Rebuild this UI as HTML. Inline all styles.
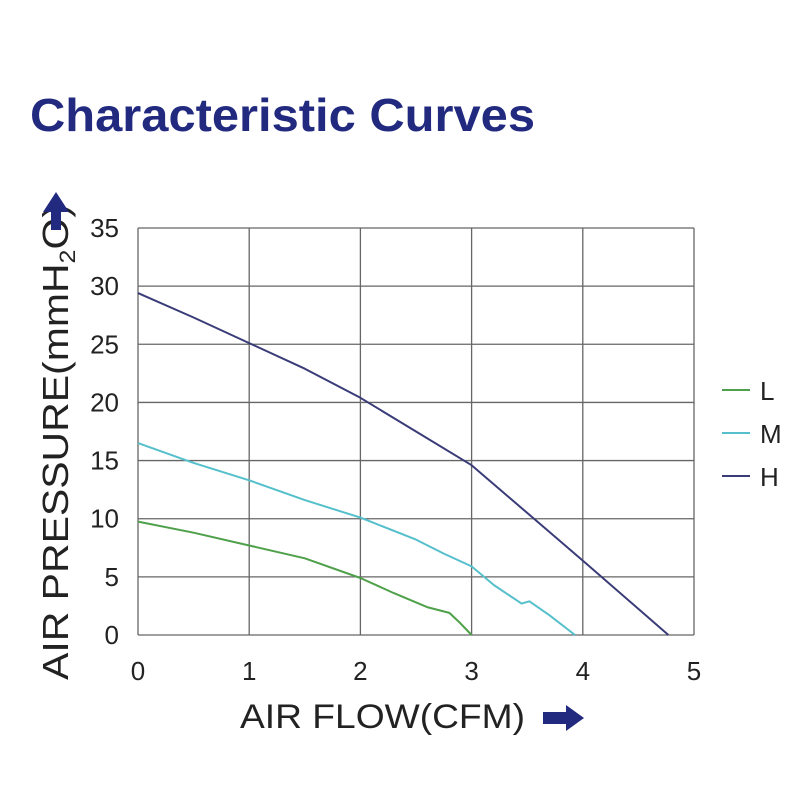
<!DOCTYPE html>
<html><head><meta charset="utf-8"><style>
body{margin:0;background:#fff;}
svg{display:block;font-family:"Liberation Sans",Arial,sans-serif;}
</style></head><body>
<svg width="800" height="800" viewBox="0 0 800 800">
<text x="30" y="131" font-size="46" font-weight="bold" fill="#222a80" textLength="505" lengthAdjust="spacingAndGlyphs">Characteristic Curves</text>
<g id="grid"></g>
<g id="series"></g>
<g id="ticks"></g>
<text transform="translate(68,442) rotate(-90)" text-anchor="middle" font-size="36" fill="#222" textLength="476" lengthAdjust="spacingAndGlyphs">AIR PRESSURE(mmH<tspan font-size="22" dy="7">2</tspan><tspan dy="-7">O)</tspan></text>
<polygon points="43,212 56,192 69,212 61,212 61,230 51,230 51,212" fill="#222a80"/>
<text x="240" y="728" font-size="34" fill="#222" textLength="285" lengthAdjust="spacingAndGlyphs">AIR FLOW(CFM)</text>
<polygon points="543,712 566,712 566,705 584,718 566,731 566,724 543,724" fill="#222a80"/>
<g id="legend"></g>
</svg>
<script>
const xTicks=[0,1,2,3,4,5];
const yTicks=[0,5,10,15,20,25,30,35];
const seriesNames=["L","M","H"];
const lFlow=[0,0.5,1,1.5,2,2.3,2.6,2.8,2.9,3.0];
const lPress=[9.75,8.8,7.7,6.6,4.9,3.6,2.4,1.9,1.0,0];
const mFlow=[0,0.5,1,1.5,2,2.5,2.75,3,3.2,3.45,3.52,3.7,3.93];
const mPress=[16.5,14.8,13.3,11.6,10.1,8.2,7.0,5.9,4.3,2.7,2.9,1.7,0];
const hFlow=[0,0.5,1,1.5,2,2.5,3,3.5,4,4.77];
const hPress=[29.4,27.3,25.1,22.9,20.4,17.5,14.6,10.5,6.4,0];
const colors=["#4fa04a","#55c0cc","#3a3c78"];
const X0=138,X1=694,Y0=635,Y1=228;
const sx=v=>X0+(v-0)/(5-0)*(X1-X0);
const sy=v=>Y0-(v-0)/(35-0)*(Y0-Y1);
const NS="http://www.w3.org/2000/svg";
function mk(t,a,p){const e=document.createElementNS(NS,t);for(const k in a)e.setAttribute(k,a[k]);p.appendChild(e);return e;}
const grid=document.getElementById('grid'),ticks=document.getElementById('ticks'),ser=document.getElementById('series'),leg=document.getElementById('legend');
xTicks.forEach(v=>{
 const l=mk('line',{x1:sx(v),x2:sx(v),y1:Y1,y2:Y0,stroke:'#666','stroke-width':1.3},grid);
 
 
 const t=mk('text',{x:sx(v),y:680,'text-anchor':'middle','font-size':26,fill:'#222'},ticks);t.textContent=v;
 
 
});
yTicks.forEach(v=>{
 const l=mk('line',{x1:X0,x2:X1,y1:sy(v),y2:sy(v),stroke:'#666','stroke-width':1.3},grid);
 
 
 const t=mk('text',{x:119,y:sy(v)+9,'text-anchor':'end','font-size':26,fill:'#222'},ticks);t.textContent=v;
 
 
});
[[lFlow,lPress],[mFlow,mPress],[hFlow,hPress]].forEach((s,i)=>{
 const d=s[0].map((x,j)=>(j?'L':'M')+sx(x).toFixed(1)+','+sy(s[1][j]).toFixed(1)).join(' ');
 const p=mk('path',{d:d,fill:'none',stroke:colors[i],'stroke-width':2,'stroke-linejoin':'round'},ser);
 
 
 const y=390+i*43;
 const ll=mk('line',{x1:722,x2:750,y1:y,y2:y,stroke:colors[i],'stroke-width':2},leg);
 
 
 const lt=mk('text',{x:760,y:y+10,'font-size':26,fill:'#222'},leg);lt.textContent=seriesNames[i];
 
 
});
</script>
</body></html>
